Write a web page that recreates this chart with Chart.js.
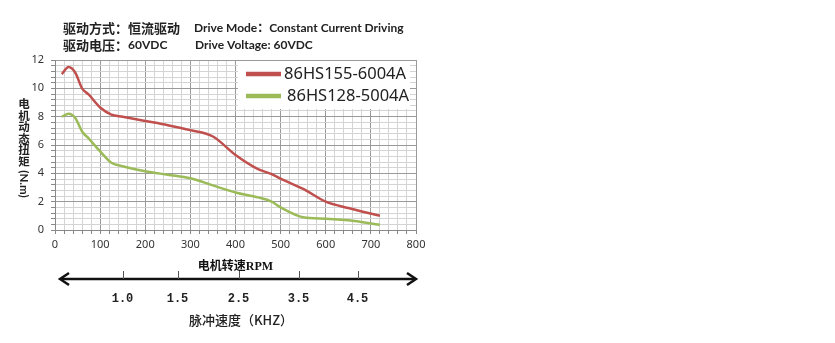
<!DOCTYPE html>
<html>
<head>
<meta charset="utf-8">
<script src="https://cdn.jsdelivr.net/npm/chart.js@4/dist/chart.umd.min.js"></script>
<style>
  html, body { margin: 0; padding: 0; background: #fff; }
  #wrap { position: relative; width: 835px; height: 343px; }
</style>
</head>
<body>
<div id="wrap"><canvas id="grafico" width="835" height="343"></canvas></div>
<script>
// rpm
const rpm = [15, 30, 45, 60, 75, 100, 125, 150, 200, 250, 300, 350, 400, 450, 480, 500, 550, 600, 650, 720];
// torque N.m
const torque155 = [11.0, 11.5, 11.1, 10.0, 9.55, 8.65, 8.15, 8.0, 7.7, 7.4, 7.05, 6.6, 5.3, 4.3, 3.95, 3.62, 2.9, 2.0, 1.55, 1.0];
const torque128 = [8.0, 8.2, 7.9, 6.95, 6.45, 5.55, 4.75, 4.5, 4.15, 3.9, 3.65, 3.15, 2.65, 2.3, 2.0, 1.6, 0.9, 0.8, 0.68, 0.37];

const nomes = ['86HS155-6004A', '86HS128-5004A'];
const cores = ['#C0504D', '#9BBB59'];

// pulse speed scale under the rpm axis
const khzLabels = ['1.0', '1.5', '2.5', '3.5', '4.5'];
const khzRpm = [150, 272, 407, 540, 672];

const titulo1 = ['驱动方式：恒流驱动', 'Drive Mode：Constant Current Driving'];
const titulo2 = ['驱动电压：60VDC', 'Drive Voltage: 60VDC'];

const extras = {
  id: 'extras',
  afterDraw(chart) {
    const ctx = chart.ctx;
    const xs = chart.scales.x;
    ctx.save();

    // header
    ctx.fillStyle = '#222';
    ctx.textBaseline = 'middle';
    ctx.font = 'bold 13px "Noto Sans CJK SC"';
    ctx.fillText(titulo1[0], 63, 28);
    ctx.fillText(titulo2[0].slice(0, 5), 63, 45);
    ctx.font = 'bold 12px "Lato", "Noto Sans CJK SC"';
    ctx.fillText(titulo2[0].slice(5), 63 + 13 * 5, 45);
    ctx.fillText(titulo1[1], 194, 28);
    ctx.fillText(titulo2[1], 195, 45);

    // y title: upright characters, then rotated unit
    ctx.font = 'bold 11.5px "Noto Sans CJK SC"';
    ctx.textAlign = 'center';
    const chars = '电机动态扭矩'.split('');
    chars.forEach((c, i) => ctx.fillText(c, 24, 104 + i * 11.5));
    ctx.save();
    ctx.translate(24, 184);
    ctx.rotate(Math.PI / 2);
    ctx.font = 'bold 11.5px "Lato"';
    ctx.fillText('(N.m)', 0, 0);
    ctx.restore();

    // legend
    const lx = 238, ly = 61;
    ctx.fillStyle = '#fff';
    ctx.fillRect(lx, ly, 172, 48);
    ctx.lineWidth = 4.5;
    ctx.lineCap = 'butt';
    ctx.textAlign = 'left';
    ctx.font = '16.5px "Noto Sans"';
    nomes.forEach((n, i) => {
      const y = 74 + i * 22;
      ctx.strokeStyle = cores[i];
      ctx.beginPath();
      ctx.moveTo(246, y);
      ctx.lineTo(281, y);
      ctx.stroke();
      ctx.fillStyle = '#222';
      ctx.fillText(n, 284 + i * 3, y);
    });

    // double arrow with pulse-speed ticks
    const ay = 279;
    const x0 = 60, x1 = 416;
    ctx.strokeStyle = '#111';
    ctx.lineWidth = 2.5;
    ctx.beginPath();
    ctx.moveTo(x0 + 1, ay);
    ctx.lineTo(x1 - 1, ay);
    ctx.stroke();
    ctx.beginPath();
    ctx.moveTo(x0 + 9, ay - 6);
    ctx.lineTo(x0, ay);
    ctx.lineTo(x0 + 9, ay + 6);
    ctx.moveTo(x1 - 9, ay - 6);
    ctx.lineTo(x1, ay);
    ctx.lineTo(x1 - 9, ay + 6);
    ctx.stroke();

    ctx.lineWidth = 1;
    ctx.strokeStyle = '#555';
    ctx.font = 'bold 12px "Liberation Mono"';
    ctx.textAlign = 'center';
    ctx.fillStyle = '#222';
    khzRpm.forEach((v, i) => {
      const px = Math.round(xs.getPixelForValue(v)) + 0.5;
      ctx.beginPath();
      ctx.moveTo(px, ay - 8);
      ctx.lineTo(px, ay);
      ctx.stroke();
      ctx.fillText(khzLabels[i], px - 1, 299);
    });

    ctx.font = '500 13px "Noto Sans CJK SC"';
    ctx.fillText('脉冲速度（KHZ）', 241, 320);
    ctx.restore();
  }
};

const ehMaior = (v, passo) => Math.abs(v / passo - Math.round(v / passo)) < 1e-6;

new Chart(document.getElementById('grafico'), {
  type: 'line',
  data: {
    labels: rpm,
    datasets: [
      {
        label: nomes[0],
        data: rpm.map((x, i) => ({ x: x, y: torque155[i] })),
        borderColor: cores[0],
        borderWidth: 2.5,
        pointRadius: 0,
        tension: 0.4,
        cubicInterpolationMode: 'monotone',
        fill: false
      },
      {
        label: nomes[1],
        data: rpm.map((x, i) => ({ x: x, y: torque128[i] })),
        borderColor: cores[1],
        borderWidth: 2.5,
        pointRadius: 0,
        tension: 0.4,
        cubicInterpolationMode: 'monotone',
        fill: false
      }
    ]
  },
  options: {
    responsive: false,
    animation: false,
    layout: { padding: { left: 0, top: 60, right: 419, bottom: 71 } },
    plugins: {
      legend: { display: false },
      tooltip: { enabled: false }
    },
    scales: {
      x: {
        type: 'linear',
        min: 0,
        max: 800,
        afterFit(s) { s.height = 42; },
        ticks: {
          stepSize: 20,
          autoSkip: false,
          maxRotation: 0,
          maxTicksLimit: 100,
          padding: 4,
          color: '#333',
          font: { family: '"Noto Sans"', size: 11 },
          callback: v => ehMaior(v, 100) ? v : ''
        },
        grid: {
          color: ctx => ehMaior(ctx.tick.value, 100) ? '#9a9a9a' : '#d4d4d4',
          tickColor: '#888',
          tickLength: 4
        },
        border: { color: '#888' },
        title: {
          display: true,
          text: '电机转速RPM',
          color: '#111',
          padding: { top: 0, bottom: -2 },
          font: { family: '"Liberation Serif", "Noto Sans CJK SC"', size: 12, weight: 'bold' }
        }
      },
      y: {
        min: 0,
        max: 12,
        afterFit(s) { s.width = 55; },
        ticks: {
          stepSize: 0.4,
          autoSkip: false,
          maxTicksLimit: 100,
          padding: 7,
          color: '#333',
          font: { family: '"Noto Sans"', size: 11 },
          callback: v => ehMaior(v, 2) ? Math.round(v) : ''
        },
        grid: {
          color: ctx => ehMaior(ctx.tick.value, 2) ? '#9a9a9a' : '#d4d4d4',
          tickColor: '#888',
          tickLength: 4
        },
        border: { color: '#888' }
      }
    }
  },
  plugins: [extras]
});
</script>
</body>
</html>
